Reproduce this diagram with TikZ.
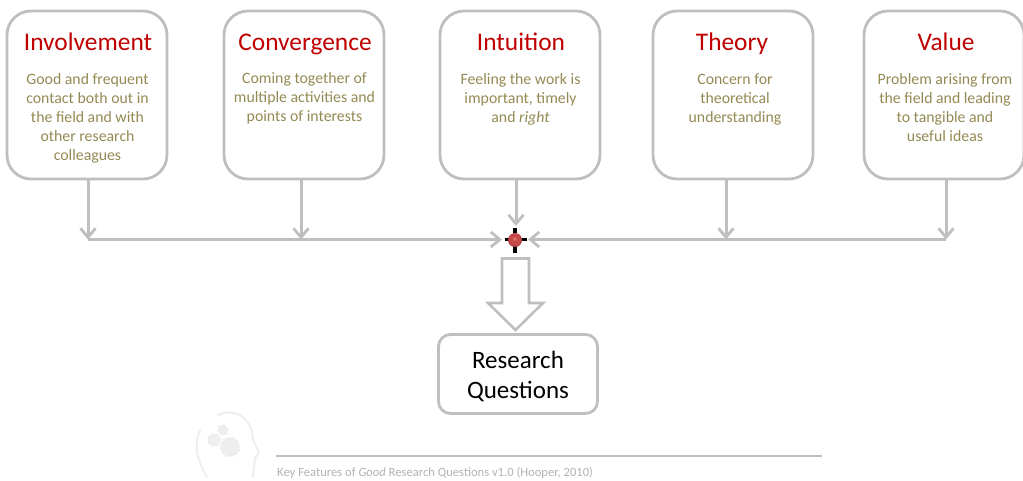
\documentclass[tikz,border=0pt]{standalone}
\usepackage{fontspec}
\setmainfont{Carlito}
\usetikzlibrary{arrows.meta}
\definecolor{boxgray}{RGB}{191,191,191}
\definecolor{titlered}{RGB}{192,0,0}
\definecolor{bodyolive}{RGB}{148,138,84}
\definecolor{foot}{RGB}{178,178,178}
\definecolor{headc}{RGB}{238,238,238}
\definecolor{ballhi}{RGB}{232,140,135}
\definecolor{ballmid}{RGB}{196,72,72}
\definecolor{ballrim}{RGB}{135,45,45}
\pgfdeclareradialshading{hubball}{\pgfpoint{-2bp}{6bp}}{
  color(0bp)=(ballhi); color(8bp)=(ballmid); color(20bp)=(ballmid); color(30bp)=(ballrim); color(50bp)=(ballrim)}
\tikzset{
  x=1pt,y=-1pt,
  cardbox/.style={draw=boxgray,line width=2.8pt,rounded corners=24pt,minimum width=160pt,minimum height=168pt,inner sep=0pt,fill=white},
  cardtitle/.style={text=titlered,font=\fontsize{25.4}{28}\selectfont,inner sep=0pt,anchor=base},
  cardbody/.style={text=bodyolive,font=\fontsize{15.8}{19}\selectfont,align=center,inner sep=0pt,anchor=north},
  conn/.style={draw=boxgray,line width=3pt,-{Straight Barb[length=9pt,width=15pt,line width=2.8pt]}},
  handle/.style={draw=black,line width=3.4pt},
  gear/.style={draw=headc,fill=headc,line width=2pt,dash pattern=on 2.5pt off 2.5pt},
}
\begin{document}
\begin{tikzpicture}
\useasboundingbox (0,0) rectangle (1023,480);
% cards
\node[cardbox] (c1) at (87,95) {};
\node[cardbox] (c2) at (304,95) {};
\node[cardbox] (c3) at (520,95) {};
\node[cardbox] (c4) at (733,95) {};
\node[cardbox] (c5) at (944,95) {};
\node[cardtitle] (t1) at (88,50) {Involvement};
\node[cardtitle] (t2) at (305,50) {Convergence};
\node[cardtitle] (t3) at (521,50) {Intuition};
\node[cardtitle] (t4) at (732,50) {Theory};
\node[cardtitle] (t5) at (946,50) {Value};
\node[cardbody] (b1) at (87.5,73) {Good and frequent\\contact both out in\\the field and with\\other research\\colleagues};
\node[cardbody] (b2) at (304.5,72.5) {Coming together of\\multiple activities and\\points of interests};
\node[cardbody] (b3) at (520.5,73) {Feeling the work is\\important, timely\\and \textit{right}};
\node[cardbody] (b4) at (735,73) {Concern for\\theoretical\\understanding};
\node[cardbody] (b5) at (945,73) {Problem arising from\\the field and leading\\to tangible and\\useful ideas};
% hub
\coordinate (jl) at (88,239.5);
\coordinate (jm) at (301,239.5);
\coordinate (jt) at (726,239.5);
\coordinate (jr) at (946,239.5);
\coordinate (hw) at (502,239.5);
\coordinate (he) at (528,239.5);
\coordinate (hn) at (516,226);
\draw[conn] (c1.south -| jl) -- (jl);
\draw[conn] (c2.south -| jm) -- (jm);
\draw[conn] (c3.south -| hn) -- (hn);
\draw[conn] (c4.south -| jt) -- (jt);
\draw[conn] (c5.south -| jr) -- (jr);
\draw[conn] (jl) -- (hw);
\draw[conn] (jr) -- (he);
\draw[handle] (515,227.5) -- (515,233);
\draw[handle] (515,246) -- (515,252.5);
\draw[handle] (504.5,239.5) -- (509,239.5);
\draw[handle] (521,239.5) -- (527,239.5);
\node[circle,minimum size=14pt,inner sep=0pt,shading=hubball] (dot) at (515,240) {};
% block arrow
\draw[draw=boxgray,line width=2.6pt,fill=white,line join=miter]
  (502,258.5) -- (529,258.5) -- (529,303) -- (543,303) -- (515.5,330) -- (488,303) -- (502,303) -- cycle;
% result
\node[draw=boxgray,line width=2.8pt,rounded corners=12pt,minimum width=159pt,minimum height=79pt,inner sep=0pt] (rq) at (518,374) {};
\node[anchor=base,inner sep=0pt,font=\fontsize{25}{30}\selectfont,text=black] (r1) at (518,368) {Research};
\node[anchor=base,inner sep=0pt,font=\fontsize{25}{30}\selectfont,text=black] (r2) at (518,398) {Questions};
% footer
\draw[headc,line width=2pt,line cap=round] (200,430) .. controls (193,446) and (198,462) .. (207,477);
\draw[headc,line width=2pt,line cap=round] (218,415) .. controls (232,408) and (252,415) .. (253,440) -- (259,452) -- (255,458) -- (253,477);
\draw[gear] (223,430) circle (5pt);
\draw[gear] (214,440) circle (6pt);
\draw[gear] (230,447) circle (9.5pt);
\coordinate (fa) at (276,456);
\coordinate (fb) at (822,456);
\draw[boxgray,line width=1.5pt] (fa) -- (fb);
\node[anchor=base west,inner sep=0pt,text=foot,font=\fontsize{12.6}{15}\selectfont] (ft) at (277,476.5) {Key Features of \textit{Good} Research Questions v1.0 (Hooper, 2010)};
\end{tikzpicture}
\end{document}
